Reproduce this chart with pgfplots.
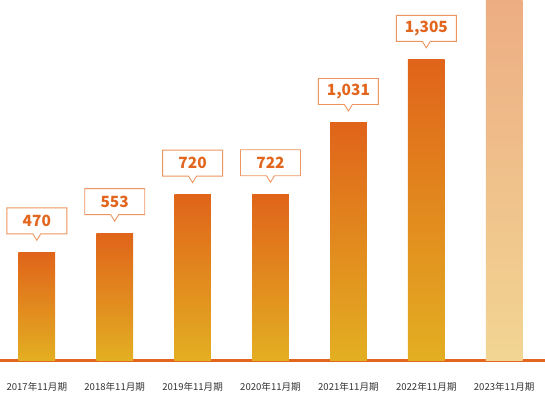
\documentclass[border=0pt]{standalone}
\usepackage{pgfplots}
\pgfplotsset{compat=1.18}
\usepackage{fontspec}
\setmainfont{Noto Sans CJK JP}
\usetikzlibrary{shapes.callouts}
\definecolor{bartop}{HTML}{E0641A}
\definecolor{barbot}{HTML}{E3AF22}
\definecolor{lbartop}{HTML}{EDAD83}
\definecolor{lbarbot}{HTML}{F2D593}
\definecolor{lineor}{HTML}{E2661E}
\definecolor{boxline}{HTML}{EC9560}
\definecolor{valtxt}{HTML}{E2661E}
\definecolor{ticktxt}{HTML}{333333}
\begin{document}
\begin{tikzpicture}
\begin{axis}[
  at={(0,0)}, anchor=south west,
  scale only axis,
  width=545bp, height=360.5bp,
  xmin=0, xmax=545, ymin=0, ymax=1564,
  axis y line=none,
  axis x line=bottom,
  x axis line style={draw=lineor, line width=2bp, -},
  xtick={36.8,114.7,192.6,270.5,348.4,426.3,504.2},
  xticklabels={2017年11月期,2018年11月期,2019年11月期,2020年11月期,2021年11月期,2022年11月期,2023年11月期},
  xtick style={draw=none},
  xticklabel style={anchor=center, yshift=-24.5bp, font=\fontsize{9.6}{11}\selectfont, text=ticktxt},
  clip=false,
  /pgf/number format/assume math mode=true,
  mybar/.style={ybar, bar width=36.7bp, bar shift=0pt, draw=none, top color=bartop, bottom color=barbot,
  nodes near coords,
  every node near coord/.append style={
    shape=rectangle callout, draw=boxline, fill=white, line width=0.9bp,
    anchor=pointer, yshift=11bp,
    minimum width=60bp, minimum height=26bp, inner sep=0pt,
    callout relative pointer={(0bp,-6.5bp)}, callout pointer width=8bp,
    font=\fontsize{15.5}{18}\selectfont\bfseries, text=valtxt,
    /pgf/number format/1000 sep={,}}},
]
\addplot[mybar] coordinates {(36.8,470)};
\addplot[mybar] coordinates {(114.7,553)};
\addplot[mybar] coordinates {(192.6,720)};
\addplot[mybar] coordinates {(270.5,722)};
\addplot[mybar] coordinates {(348.4,1031)};
\addplot[mybar] coordinates {(426.3,1305)};
\addplot[ybar, bar width=36.7bp, bar shift=0pt, draw=none, top color=lbartop, bottom color=lbarbot]
  coordinates {(504.2,1560)};
\end{axis}
\pgfresetboundingbox
\path[use as bounding box] (0,-38.5bp) rectangle (545bp,360.5bp);
\end{tikzpicture}
\end{document}
